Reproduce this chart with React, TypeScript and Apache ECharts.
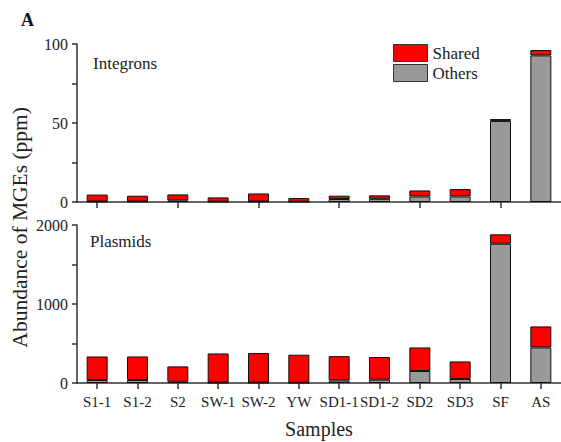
import React, { useEffect, useRef } from "react";
import * as echarts from "echarts";

const categories = ["S1-1", "S1-2", "S2", "SW-1", "SW-2", "YW", "SD1-1", "SD1-2", "SD2", "SD3", "SF", "AS"];
// Integrons (ppm)
const integronOthers = [0.3, 0.3, 1.0, 0.2, 0.3, 0.2, 1.9, 2.0, 3.5, 3.5, 51.3, 92.8];
const integronShared = [4.4, 3.7, 3.8, 2.7, 5.1, 2.3, 2.1, 2.2, 3.8, 4.7, 1.2, 3.4];
// Plasmids (ppm)
const plasmidOthers = [38, 38, 16, 5, 5, 3, 33, 42, 152, 51, 1763, 450];
const plasmidShared = [298, 298, 194, 369, 374, 355, 307, 287, 298, 222, 119, 266];

const integronTicks = [0, 50, 100];
const plasmidTicks = [0, 1000, 2000];

const FONT = "Liberation Serif";
const RED = "#ff0000";
const GREY = "#999999";
const AXIS = "#333333";

export default function App() {
  const ref = useRef<HTMLDivElement>(null);
  useEffect(() => {
    if (!ref.current) return;
    const chart = echarts.init(ref.current, undefined, { renderer: "svg" });
    const axisLine = { show: true, lineStyle: { color: AXIS, width: 1.5 } };
    const yAxisCommon = {
      type: "value" as const,
      splitLine: { show: false },
      axisLine,
      axisTick: { show: true, inside: false, length: 5, lineStyle: { color: AXIS, width: 1.5 } },
      minorTick: { show: true, splitNumber: 2, length: 5, lineStyle: { color: AXIS, width: 1.5 } },
      axisLabel: { color: "#222", fontFamily: FONT, fontSize: 16, margin: 9, formatter: (v: number) => String(v) },
    };
    const xAxisCommon = {
      type: "category" as const,
      data: categories,
      axisLine,
      axisTick: { show: true, alignWithLabel: true, inside: false, length: 6, lineStyle: { color: AXIS, width: 1.5 } },
    };
    const barStyle = (color: string) => ({ color, borderColor: "#111", borderWidth: 1 });
    chart.setOption({
      animation: false,
      backgroundColor: "#fff",
      textStyle: { fontFamily: FONT },
      grid: [
        { left: 77, right: 0, top: 44, height: 158 },
        { left: 77, right: 0, top: 225, height: 158 },
      ],
      legend: {
        data: ["Shared", "Others"],
        orient: "vertical",
        left: 393,
        top: 44,
        itemWidth: 34,
        itemHeight: 17,
        itemGap: 2,
        icon: "rect",
        textStyle: { fontFamily: FONT, fontSize: 17, color: "#222" },
        padding: 0,
        itemStyle: { borderColor: "#333", borderWidth: 1 },
      },
      title: [
        { text: "A", left: 16, top: 6, textStyle: { fontFamily: FONT, fontSize: 18, fontWeight: "bold", color: "#111" } },
        { text: "Integrons", left: 88, top: 50, textStyle: { fontFamily: FONT, fontSize: 17, fontWeight: "normal", color: "#222" } },
        { text: "Plasmids", left: 85, top: 228, textStyle: { fontFamily: FONT, fontSize: 17, fontWeight: "normal", color: "#222" } },
      ],
      xAxis: [
        { ...xAxisCommon, gridIndex: 0, axisLabel: { show: false } },
        {
          ...xAxisCommon,
          gridIndex: 1,
          axisLabel: { show: true, color: "#222", fontFamily: FONT, fontSize: 15, margin: 11, interval: 0 },
          name: "Samples",
          nameLocation: "middle",
          nameGap: 36,
          nameTextStyle: { fontFamily: FONT, fontSize: 20, color: "#222" },
        },
      ],
      yAxis: [
        {
          ...yAxisCommon,
          gridIndex: 0,
          min: integronTicks[0],
          max: integronTicks[integronTicks.length - 1],
          interval: integronTicks[1] - integronTicks[0],
        },
        {
          ...yAxisCommon,
          gridIndex: 1,
          min: plasmidTicks[0],
          max: plasmidTicks[plasmidTicks.length - 1],
          interval: plasmidTicks[1] - plasmidTicks[0],
        },
      ],
      graphic: [
        {
          type: "text",
          left: 9,
          top: 107,
          rotation: Math.PI / 2,
          style: { text: "Abundance of MGEs (ppm)", fontFamily: FONT, fontSize: 21.5, fill: "#222" },
        },
      ],
      series: [
        { name: "Others", type: "bar", stack: "i", xAxisIndex: 0, yAxisIndex: 0, data: integronOthers, barWidth: 21, itemStyle: barStyle(GREY) },
        { name: "Shared", type: "bar", stack: "i", xAxisIndex: 0, yAxisIndex: 0, data: integronShared, barWidth: 21, itemStyle: barStyle(RED) },
        { name: "Others", type: "bar", stack: "p", xAxisIndex: 1, yAxisIndex: 1, data: plasmidOthers, barWidth: 21, itemStyle: barStyle(GREY) },
        { name: "Shared", type: "bar", stack: "p", xAxisIndex: 1, yAxisIndex: 1, data: plasmidShared, barWidth: 21, itemStyle: barStyle(RED) },
      ],
    });
    return () => chart.dispose();
  }, []);
  return <div ref={ref} style={{ width: 561, height: 442, position: "fixed", left: 0, top: 0 }} />;
}
